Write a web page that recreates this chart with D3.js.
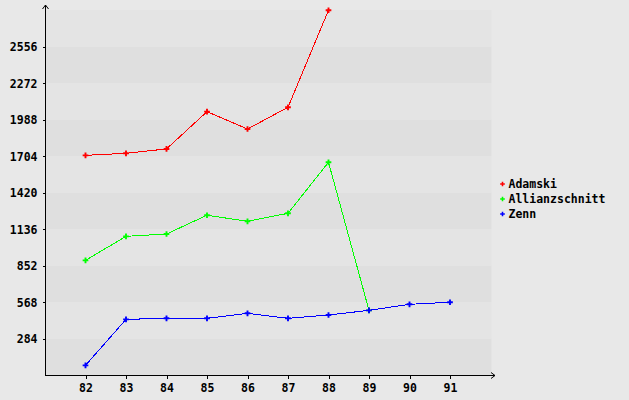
<!DOCTYPE html>
<html><head><meta charset="utf-8">
<script src="https://cdnjs.cloudflare.com/ajax/libs/d3/7.8.5/d3.min.js"></script>
<style>
html,body{margin:0;padding:0;background:#e8e8e8;}
svg{display:block;}
text{font-family:"DejaVu Sans Mono",monospace;font-weight:bold;font-size:11.5px;fill:#000;}
</style></head>
<body>
<script>
const categories = ["82","83","84","85","86","87","88","89","90","91"];
const seriesNames = ["Adamski","Allianzschnitt","Zenn"];
const seriesColors = ["#ff0000","#00ff00","#0000ff"];
const adamski = [1709, 1725, 1759, 2049, 1914, 2083, 2838];
const allianzschnitt = [892, 1079, 1097, 1243, 1196, 1258, 1655, 503];
const zenn = [75, 433, 441, 441, 480, 441, 467, 503, 550, 566];
const yTicks = [284, 568, 852, 1136, 1420, 1704, 1988, 2272, 2556];
const yMax = 2840;
const bandStep = 284;

(function () {
const W = 629, H = 400;
const svg = d3.select("body").append("svg").attr("width", W).attr("height", H);
svg.append("rect").attr("width", W).attr("height", H).attr("fill", "#e8e8e8");

const pLeft = 45, pRight = 490.5, pTop = 10, pBottom = 375;
const x = d3.scalePoint().domain(categories).range([pLeft, pRight]).padding(1);
const y = d3.scaleLinear().domain([0, yMax]).range([pBottom, pTop]);

// bands
const bands = d3.range(0, yMax, bandStep);
svg.append("g").selectAll("rect").data(bands).join("rect")
  .attr("x", pLeft + 1).attr("width", pRight - pLeft)
  .attr("y", d => y(d + bandStep)).attr("height", d => y(d) - y(d + bandStep))
  .attr("fill", (d, i) => i % 2 === 0 ? "#dfdfdf" : "#e4e4e4");

// axes
const yAxis = d3.axisLeft(y).tickValues(yTicks).tickSize(3).tickPadding(5).tickFormat(d3.format("d"));
const gy = svg.append("g").attr("transform", `translate(${pLeft + 0.5},0)`).call(yAxis);
gy.select(".domain").remove();
gy.attr("font-family", null).attr("font-size", null);
gy.selectAll("text").attr("dy", "0.35em");

const xAxis = d3.axisBottom(x).tickSize(3).tickPadding(5);
const gx = svg.append("g").attr("transform", `translate(0,${pBottom + 0.5})`).call(xAxis);
gx.select(".domain").remove();
gx.attr("font-family", null).attr("font-size", null);
gx.selectAll("text").attr("dy", "0.71em");

svg.selectAll(".tick line").attr("stroke", "#000").attr("shape-rendering", "crispEdges");

// axis lines with arrows
svg.append("line").attr("x1", pLeft + 0.5).attr("x2", pLeft + 0.5).attr("y1", pBottom + 1).attr("y2", 5)
  .attr("stroke", "#000").attr("shape-rendering", "crispEdges");
svg.append("path").attr("d", `M${pLeft - 2.5},9 L${pLeft + 0.5},5 L${pLeft + 3.5},9`).attr("fill", "none").attr("stroke", "#000");
svg.append("line").attr("x1", pLeft).attr("x2", 495).attr("y1", pBottom + 0.5).attr("y2", pBottom + 0.5)
  .attr("stroke", "#000").attr("shape-rendering", "crispEdges");
svg.append("path").attr("d", `M491,${pBottom - 2.5} L495,${pBottom + 0.5} L491,${pBottom + 3.5}`).attr("fill", "none").attr("stroke", "#000");

// series
const allSeries = [adamski, allianzschnitt, zenn];
const line = d3.line().x((d, i) => x(categories[i])).y(d => y(d));
const sym = d3.symbol().type(d3.symbolCross).size(18);
allSeries.forEach((vals, si) => {
  svg.append("path").datum(vals).attr("d", line).attr("fill", "none")
    .attr("stroke", seriesColors[si]).attr("stroke-width", 1).attr("shape-rendering", "crispEdges");
  svg.append("g").selectAll("path").data(vals).join("path")
    .attr("d", sym).attr("fill", seriesColors[si])
    .attr("transform", (d, i) => `translate(${x(categories[i])},${y(d)})`);
});

// legend
const lg = svg.append("g").attr("transform", "translate(502.5,184)");
seriesNames.forEach((n, i) => {
  const g = lg.append("g").attr("transform", `translate(0,${i * 15})`);
  g.append("path").attr("d", d3.symbol().type(d3.symbolCross).size(12)).attr("fill", seriesColors[i]);
  g.append("text").attr("x", 6).attr("dy", "0.35em").text(n);
});
})();
</script>
</body></html>
